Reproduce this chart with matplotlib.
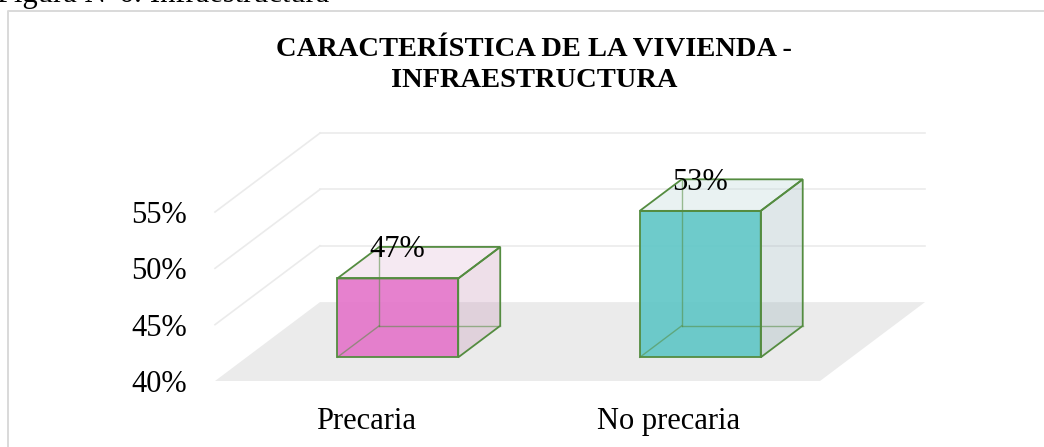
import matplotlib.pyplot as plt
from matplotlib.patches import Polygon
from matplotlib.lines import Line2D

# === Datos ===
categorias = ["Precaria", "No precaria"]
porcentajes = [47, 53]
ticks_y = [40, 45, 50, 55]
etiquetas_y = ["40%", "45%", "50%", "55%"]

titulo = "CARACTERÍSTICA DE LA VIVIENDA -\nINFRAESTRUCTURA"
leyenda_fig = "Figura N°6: Infraestructura"

# colores (frente, lado derecho, tapa)
col_frente = ["#E473C9", "#5EC6C6"]
col_lado = ["#C896B9", "#98B2B9"]
col_tapa = ["#DEB9D7", "#B9D7D7"]
col_borde = "#548C40"

# === Geometria de la perspectiva ===
DX = 0.347      # desplazamiento en x por profundidad (unidades de categoria)
DY = 7.0        # desplazamiento en y por profundidad (puntos %)
ANCHO = 0.2     # semiancho de barra
D0, D1 = 0.3, 0.7
BASE = ticks_y[0]

plt.rcParams["font.family"] = ["Liberation Serif", "DejaVu Serif"]

fig = plt.figure(figsize=(10.44, 4.47), dpi=100)
ax = fig.add_axes([215 / 1044, 66 / 447, 605 / 1044, 169 / 447])
ax.set_xlim(-0.5, 1.5)
ax.set_ylim(BASE, ticks_y[-1])
for s in ax.spines.values():
    s.set_visible(False)
ax.patch.set_visible(False)


def P(x, z, d):
    return (x + d * DX, z + d * DY)


# piso
piso = Polygon([P(-0.5, BASE, 0), P(1.5, BASE, 0), P(1.5, BASE, 1), P(-0.5, BASE, 1)],
               closed=True, facecolor="#EBEBEB", edgecolor="none", clip_on=False, zorder=1)
ax.add_patch(piso)

# lineas de cuadricula (pared de fondo y pared izquierda)
for v in ticks_y[1:]:
    xa, ya = P(-0.5, v, 1)
    xb, yb = P(1.5, v, 1)
    ax.plot([xa, xb], [ya, yb], color="#EBEBEB", lw=1.2, clip_on=False, zorder=1)
    xc, yc = P(-0.5, v, 0)
    ax.plot([xc, xa], [yc, ya], color="#EBEBEB", lw=1.2, clip_on=False, zorder=1)

# barras 3D
for i, val in enumerate(porcentajes):
    x0, x1 = i - ANCHO, i + ANCHO
    lado = Polygon([P(x1, BASE, D0), P(x1, BASE, D1), P(x1, val, D1), P(x1, val, D0)],
                   closed=True, facecolor=col_lado[i], alpha=0.3, edgecolor="none",
                   clip_on=False, zorder=3)
    tapa = Polygon([P(x0, val, D0), P(x1, val, D0), P(x1, val, D1), P(x0, val, D1)],
                   closed=True, facecolor=col_tapa[i], alpha=0.3, edgecolor="none",
                   clip_on=False, zorder=3)
    frente = Polygon([P(x0, BASE, D0), P(x1, BASE, D0), P(x1, val, D0), P(x0, val, D0)],
                     closed=True, facecolor=col_frente[i], alpha=0.9, edgecolor="none",
                     clip_on=False, zorder=4)
    for pat in (lado, tapa, frente):
        ax.add_patch(pat)
    # aristas ocultas (vistas a traves de la cara frontal)
    ocultas = [
        [P(x0, BASE, D1), P(x0, val, D1)],
        [P(x0, BASE, D1), P(x1, BASE, D1)],
        [P(x0, BASE, D0), P(x0, BASE, D1)],
    ]
    for a, b in ocultas:
        ax.plot([a[0], b[0]], [a[1], b[1]], color=col_borde, lw=1.0, alpha=0.55,
                clip_on=False, zorder=4.5)
    for pts in (lado.get_xy(), tapa.get_xy(), frente.get_xy()):
        ax.add_patch(Polygon(pts, closed=True, fill=False, edgecolor=col_borde,
                             lw=1.3, clip_on=False, zorder=5))
    # etiqueta de datos
    xt, yt = P(i, val, D0)
    ax.annotate(f"{val}%", (xt, val + D1 * DY), xytext=(0, -7.5), textcoords="offset points",
                ha="center", va="baseline", fontsize=22, color="black", zorder=6,
                annotation_clip=False)

ax.set_yticks(ticks_y, etiquetas_y, fontsize=22)
ax.set_xticks(range(len(categorias)), categorias, fontsize=22)
ax.tick_params(axis="y", length=0, pad=20)
ax.tick_params(axis="x", length=0, pad=19)

# titulo y leyenda de figura
lineas = titulo.split("\n")
fig.text(534 / 1044, 1 - 56 / 447, lineas[0], ha="center", va="baseline",
         fontsize=20.5, fontweight="bold")
fig.text(534 / 1044, 1 - 87 / 447, lineas[1], ha="center", va="baseline",
         fontsize=20.5, fontweight="bold")
fig.text(-3 / 1044, 1 - 2 / 447, leyenda_fig, ha="left", va="baseline", fontsize=22)

# marco del grafico
fig.add_artist(Line2D([8 / 1044, 8 / 1044, 1.0], [0.0, 1 - 11 / 447, 1 - 11 / 447],
                      transform=fig.transFigure, color="#D9D9D9", lw=1.4))

fig.savefig("out.png", dpi=100)
